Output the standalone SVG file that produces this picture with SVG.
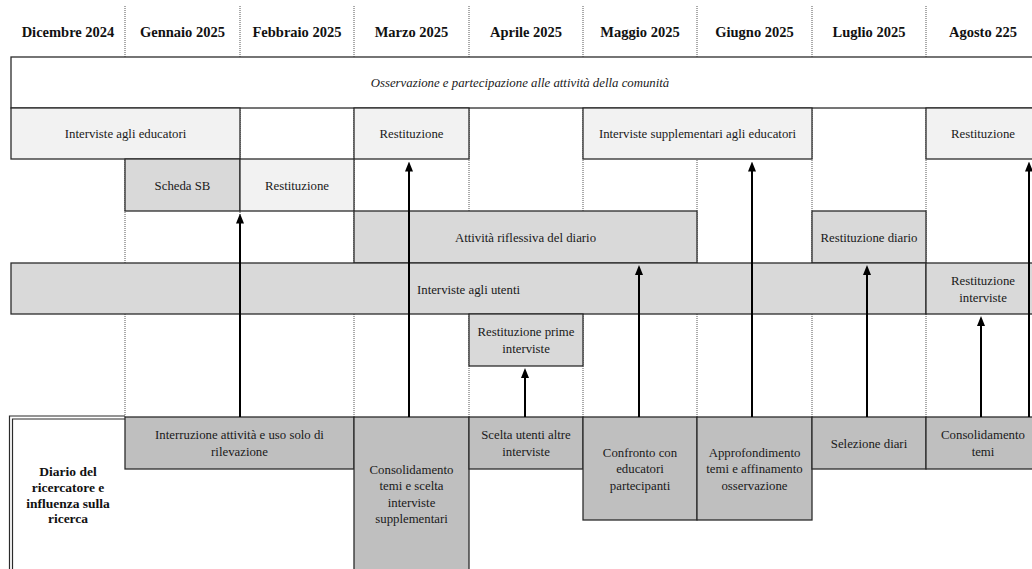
<svg xmlns="http://www.w3.org/2000/svg" width="1032" height="569" viewBox="0 0 1032 569">
<style>
  .hd { font-family: "Liberation Serif", "Times New Roman", serif; font-size: 14.5px; font-weight: bold; fill: #111; text-anchor: middle; }
  .t { font-family: "Liberation Serif", "Times New Roman", serif; font-size: 12.8px; fill: #1a1a1a; text-anchor: middle; }
  .it { font-style: italic; }
  .lbl { font-family: "Liberation Serif", "Times New Roman", serif; font-size: 13.5px; font-weight: bold; fill: #111; text-anchor: middle; }
  .grid { stroke: #555; stroke-width: 1; stroke-dasharray: 1 1; fill: none; }
  .box { stroke: #2b2b2b; stroke-width: 1.3; }
  .w { fill: #ffffff; }
  .l { fill: #f2f2f2; }
  .m { fill: #d9d9d9; }
  .d { fill: #bfbfbf; }
  .arr { stroke: #000; stroke-width: 2; fill: none; marker-end: url(#ah); }
  .dbl { stroke: #2b2b2b; stroke-width: 1.2; fill: none; }
</style>
<defs>
  <marker id="ah" viewBox="0 0 10 8" markerWidth="10" markerHeight="8" refX="1" refY="4" orient="auto" markerUnits="userSpaceOnUse">
    <path d="M0,0 L10,4 L0,8 z" fill="#000"/>
  </marker>
</defs>
<rect x="0" y="0" width="1032" height="569" fill="#fff"/>

<g id="gridlines">
  <line class="grid" x1="125" y1="6" x2="125" y2="417"/>
  <line class="grid" x1="240" y1="6" x2="240" y2="417"/>
  <line class="grid" x1="354" y1="6" x2="354" y2="417"/>
  <line class="grid" x1="469" y1="6" x2="469" y2="417"/>
  <line class="grid" x1="583" y1="6" x2="583" y2="417"/>
  <line class="grid" x1="697" y1="6" x2="697" y2="417"/>
  <line class="grid" x1="812" y1="6" x2="812" y2="417"/>
  <line class="grid" x1="926" y1="6" x2="926" y2="417"/>
</g>

<g id="header">
  <text class="hd" x="68" y="37">Dicembre 2024</text>
  <text class="hd" x="182.5" y="37">Gennaio 2025</text>
  <text class="hd" x="297" y="37">Febbraio 2025</text>
  <text class="hd" x="411.5" y="37">Marzo 2025</text>
  <text class="hd" x="526" y="37">Aprile 2025</text>
  <text class="hd" x="640" y="37">Maggio 2025</text>
  <text class="hd" x="754.5" y="37">Giugno 2025</text>
  <text class="hd" x="869" y="37">Luglio 2025</text>
  <text class="hd" x="983" y="37">Agosto 225</text>
</g>

<g id="osservazione">
  <rect class="box w" x="11" y="57" width="1040" height="51"/>
  <text class="t it" x="520" y="87">Osservazione e partecipazione alle attività della comunità</text>
</g>

<g id="interviste-educatori">
  <rect class="box l" x="11" y="108" width="229" height="51"/>
  <text class="t" x="125.5" y="138">Interviste agli educatori</text>
</g>
<g id="restituzione-marzo">
  <rect class="box l" x="354" y="108" width="115" height="51"/>
  <text class="t" x="411.5" y="138">Restituzione</text>
</g>
<g id="interviste-supplementari">
  <rect class="box l" x="583" y="108" width="229" height="51"/>
  <text class="t" x="697.5" y="138">Interviste supplementari agli educatori</text>
</g>
<g id="restituzione-agosto">
  <rect class="box l" x="926" y="108" width="120" height="51"/>
  <text class="t" x="983" y="138">Restituzione</text>
</g>

<g id="scheda-sb">
  <rect class="box m" x="125" y="159" width="115" height="52"/>
  <text class="t" x="182.5" y="189.5">Scheda SB</text>
</g>
<g id="restituzione-febbraio">
  <rect class="box l" x="240" y="159" width="114" height="52"/>
  <text class="t" x="297" y="189.5">Restituzione</text>
</g>

<g id="attivita-riflessiva">
  <rect class="box m" x="354" y="211" width="343" height="52"/>
  <text class="t" x="525.5" y="241.5">Attività riflessiva del diario</text>
</g>
<g id="restituzione-diario">
  <rect class="box m" x="812" y="211" width="114" height="52"/>
  <text class="t" x="869" y="241.5">Restituzione diario</text>
</g>

<g id="interviste-utenti">
  <rect class="box m" x="11" y="263" width="915" height="51"/>
  <text class="t" x="468.5" y="293.5">Interviste agli utenti</text>
</g>
<g id="restituzione-interviste">
  <rect class="box m" x="926" y="263" width="120" height="51"/>
  <text class="t" x="983" y="285">Restituzione</text>
  <text class="t" x="983" y="302">interviste</text>
</g>

<g id="restituzione-prime">
  <rect class="box m" x="469" y="314" width="114" height="52"/>
  <text class="t" x="526" y="336">Restituzione prime</text>
  <text class="t" x="526" y="353">interviste</text>
</g>

<g id="diario-label">
  <path class="dbl" d="M9.5,569 V416 H125"/>
  <path class="dbl" d="M12.5,569 V419 H125"/>
  <text class="lbl" x="68" y="475.5">Diario del</text>
  <text class="lbl" x="68" y="491.5">ricercatore e</text>
  <text class="lbl" x="68" y="507.5">influenza sulla</text>
  <text class="lbl" x="68" y="523">ricerca</text>
</g>

<g id="interruzione">
  <rect class="box d" x="125" y="417" width="229" height="52"/>
  <text class="t" x="239.5" y="438.5">Interruzione attività e uso solo di</text>
  <text class="t" x="239.5" y="455.5">rilevazione</text>
</g>
<g id="consolidamento-scelta">
  <rect class="box d" x="354" y="417" width="115" height="160"/>
  <text class="t" x="411.5" y="473.5">Consolidamento</text>
  <text class="t" x="411.5" y="490">temi e scelta</text>
  <text class="t" x="411.5" y="506.5">interviste</text>
  <text class="t" x="411.5" y="523">supplementari</text>
</g>
<g id="scelta-utenti">
  <rect class="box d" x="469" y="417" width="114" height="52"/>
  <text class="t" x="526" y="439">Scelta utenti altre</text>
  <text class="t" x="526" y="456">interviste</text>
</g>
<g id="confronto">
  <rect class="box d" x="583" y="417" width="114" height="103"/>
  <text class="t" x="640" y="456.5">Confronto con</text>
  <text class="t" x="640" y="473">educatori</text>
  <text class="t" x="640" y="490">partecipanti</text>
</g>
<g id="approfondimento">
  <rect class="box d" x="697" y="417" width="115" height="103"/>
  <text class="t" x="754.5" y="456.5">Approfondimento</text>
  <text class="t" x="754.5" y="473">temi e affinamento</text>
  <text class="t" x="754.5" y="490">osservazione</text>
</g>
<g id="selezione-diari">
  <rect class="box d" x="812" y="417" width="114" height="52"/>
  <text class="t" x="869" y="447.5">Selezione diari</text>
</g>
<g id="consolidamento-temi">
  <rect class="box d" x="926" y="417" width="120" height="52"/>
  <text class="t" x="983" y="439">Consolidamento</text>
  <text class="t" x="983" y="456">temi</text>
</g>

<g id="connectors">
  <line class="arr" x1="240" y1="417" x2="240" y2="222.5"/>
  <line class="arr" x1="409" y1="417" x2="409" y2="170.5"/>
  <line class="arr" x1="525" y1="417" x2="525" y2="377"/>
  <line class="arr" x1="639" y1="417" x2="639" y2="274"/>
  <line class="arr" x1="752" y1="417" x2="752" y2="170.5"/>
  <line class="arr" x1="867" y1="417" x2="867" y2="274"/>
  <line class="arr" x1="981" y1="417" x2="981" y2="325"/>
  <line class="arr" x1="1029" y1="417" x2="1029" y2="170.5"/>
</g>
</svg>
